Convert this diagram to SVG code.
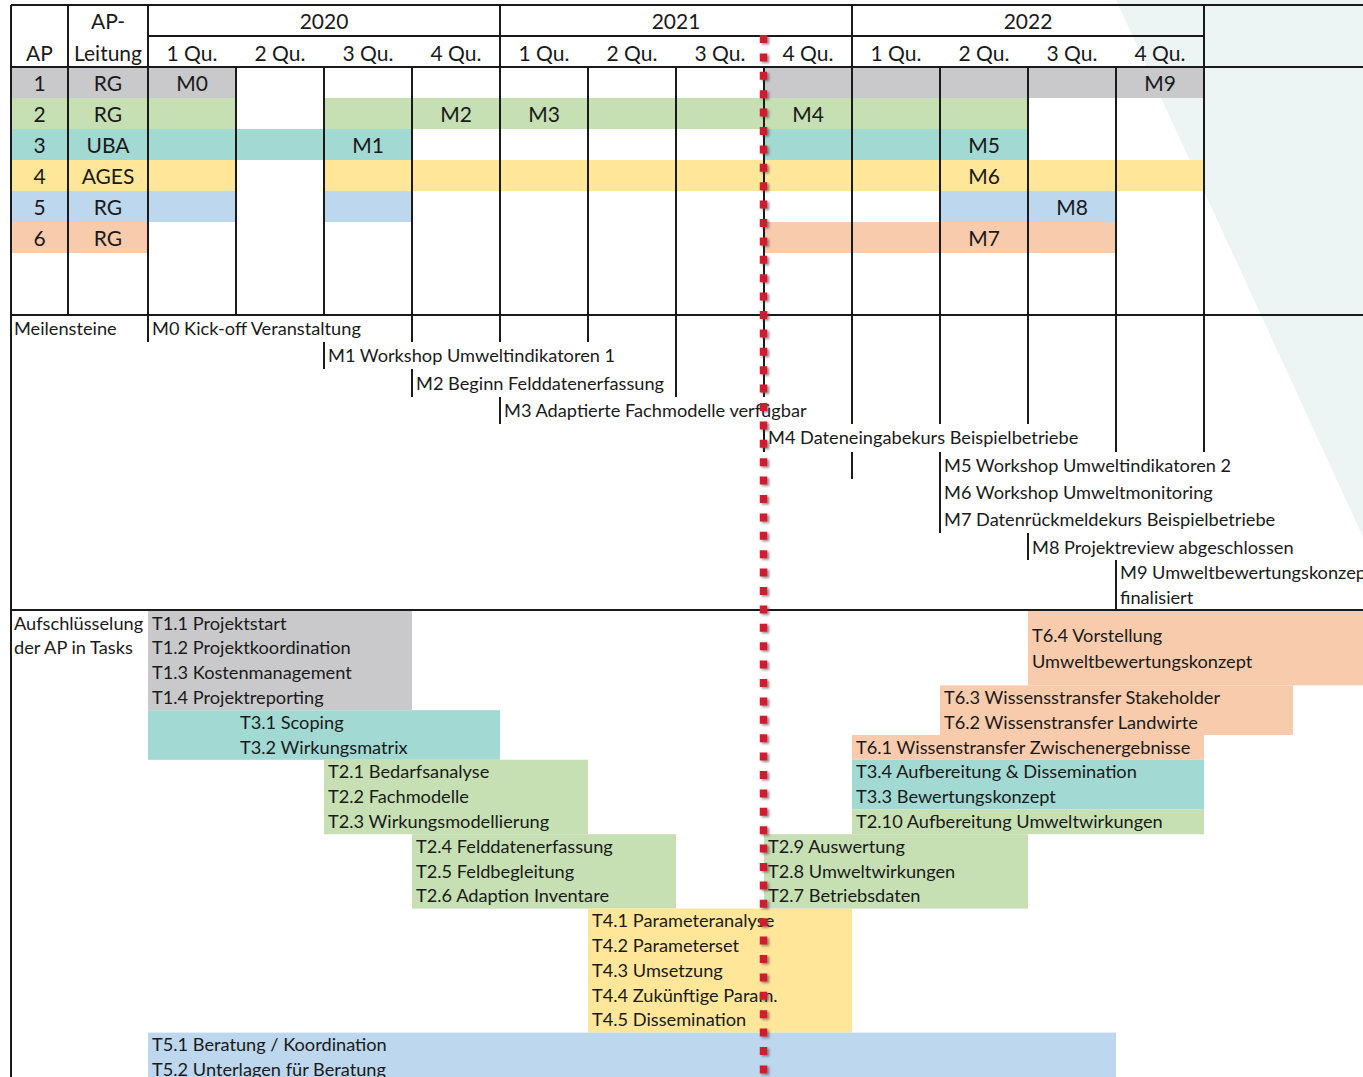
<svg xmlns="http://www.w3.org/2000/svg" width="1363" height="1077" viewBox="0 0 1363 1077">
<style>
.t{font-family:Lato,"Liberation Sans",sans-serif;font-size:18.2px;fill:#1a1a1a}
.h{font-family:Lato,"Liberation Sans",sans-serif;font-size:21px;fill:#1a1a1a;text-anchor:middle}
.ln{stroke:#1a1a1a;stroke-width:2;fill:none}
.gr{fill:#C9C9CB}.gn{fill:#C6E0B4}.tl{fill:#A2D9D3}.yl{fill:#FFE699}.bl{fill:#BDD7EE}.or{fill:#F8CBAD}
</style>
<defs>
<filter id="sh" filterUnits="userSpaceOnUse" x="740" y="20" width="50" height="1077">
<feDropShadow dx="2" dy="1.5" stdDeviation="1" flood-color="#444" flood-opacity="0.6"/>
</filter>
</defs>
<rect width="1363" height="1077" fill="#fff"/>
<polygon points="1116,0 1363,0 1363,537" fill="#EDF4F4"/>

<g id="gantt-fills">
<rect class="gr" x="11" y="67" width="225" height="31"/>
<rect class="gr" x="764" y="67" width="440" height="31"/>
<rect class="gn" x="11" y="98" width="225" height="31"/>
<rect class="gn" x="324" y="98" width="704" height="31"/>
<rect class="tl" x="11" y="129" width="401" height="31"/>
<rect class="tl" x="764" y="129" width="264" height="31"/>
<rect class="yl" x="11" y="160" width="225" height="31"/>
<rect class="yl" x="324" y="160" width="880" height="31"/>
<rect class="bl" x="11" y="191" width="225" height="31"/>
<rect class="bl" x="324" y="191" width="88" height="31"/>
<rect class="bl" x="940" y="191" width="176" height="31"/>
<rect class="or" x="11" y="222" width="137" height="31"/>
<rect class="or" x="764" y="222" width="352" height="31"/>
</g>

<g id="task-fills">
<rect class="gr" x="148" y="611" width="264" height="99.2"/>
<rect class="tl" x="148" y="710.2" width="352" height="49.6"/>
<rect class="gn" x="324" y="759.8" width="264" height="74.4"/>
<rect class="gn" x="412" y="834.2" width="264" height="74.4"/>
<rect class="yl" x="588" y="908.6" width="264" height="124"/>
<rect class="bl" x="148" y="1032.6" width="968" height="44.4"/>
<rect class="or" x="1028" y="611" width="335" height="74.4"/>
<rect class="or" x="940" y="685.4" width="353" height="49.6"/>
<rect class="or" x="852" y="735" width="352" height="24.8"/>
<rect class="tl" x="852" y="759.8" width="352" height="49.6"/>
<rect class="gn" x="852" y="809.4" width="352" height="24.8"/>
<rect class="gn" x="764" y="834.2" width="264" height="74.4"/>
</g>

<g id="grid" class="ln">
<path d="M11,5H1363M148,36H1204M11,67H1363M11,315H1363M11,610H1363"/>
<path d="M11,5V1077M68,5V315M148,5V342M500,5V67M852,5V67M1204,5V452"/>
<path d="M236,67V315M324,67V315M412,67V342M500,67V342M588,67V342M676,67V397M764,67V397M852,67V424M940,67V424M1028,67V424M1116,67V452"/>
<path d="M324,342V369M412,369V397M500,397V424M764,424V452M852,452V479M940,452V533M1028,533V560M1116,560V610"/>
</g>

<g id="header">
<text class="h" x="108" y="29">AP-</text>
<text class="h" x="39.5" y="60.5">AP</text>
<text class="h" x="108" y="60.5">Leitung</text>
<text class="h" x="324" y="29">2020</text>
<text class="h" x="676" y="29">2021</text>
<text class="h" x="1028" y="29">2022</text>
<text class="h" x="192" y="60.5">1 Qu.</text>
<text class="h" x="280" y="60.5">2 Qu.</text>
<text class="h" x="368" y="60.5">3 Qu.</text>
<text class="h" x="456" y="60.5">4 Qu.</text>
<text class="h" x="544" y="60.5">1 Qu.</text>
<text class="h" x="632" y="60.5">2 Qu.</text>
<text class="h" x="720" y="60.5">3 Qu.</text>
<text class="h" x="808" y="60.5">4 Qu.</text>
<text class="h" x="896" y="60.5">1 Qu.</text>
<text class="h" x="984" y="60.5">2 Qu.</text>
<text class="h" x="1072" y="60.5">3 Qu.</text>
<text class="h" x="1160" y="60.5">4 Qu.</text>
</g>

<g id="ap-rows">
<text class="h" x="39.5" y="91">1</text><text class="h" x="108" y="91">RG</text>
<text class="h" x="39.5" y="122">2</text><text class="h" x="108" y="122">RG</text>
<text class="h" x="39.5" y="153">3</text><text class="h" x="108" y="153">UBA</text>
<text class="h" x="39.5" y="184">4</text><text class="h" x="108" y="184">AGES</text>
<text class="h" x="39.5" y="215">5</text><text class="h" x="108" y="215">RG</text>
<text class="h" x="39.5" y="246">6</text><text class="h" x="108" y="246">RG</text>
<text class="h" x="192" y="91">M0</text>
<text class="h" x="1160" y="91">M9</text>
<text class="h" x="456" y="122">M2</text>
<text class="h" x="544" y="122">M3</text>
<text class="h" x="808" y="122">M4</text>
<text class="h" x="368" y="153">M1</text>
<text class="h" x="984" y="153">M5</text>
<text class="h" x="984" y="184">M6</text>
<text class="h" x="1072" y="215">M8</text>
<text class="h" x="984" y="246">M7</text>
</g>

<g id="milestones">
<text class="t" x="14" y="335">Meilensteine</text>
<text class="t" x="152" y="335">M0 Kick-off Veranstaltung</text>
<text class="t" x="328" y="362">M1 Workshop Umweltindikatoren 1</text>
<text class="t" x="416" y="389.5">M2 Beginn Felddatenerfassung</text>
<text class="t" x="504" y="417">M3 Adaptierte Fachmodelle verfügbar</text>
<text class="t" x="768" y="444">M4 Dateneingabekurs Beispielbetriebe</text>
<text class="t" x="944" y="471.5">M5 Workshop Umweltindikatoren 2</text>
<text class="t" x="944" y="499">M6 Workshop Umweltmonitoring</text>
<text class="t" x="944" y="526">M7 Datenrückmeldekurs Beispielbetriebe</text>
<text class="t" x="1032" y="553.5">M8 Projektreview abgeschlossen</text>
<text class="t" x="1120" y="578.5">M9 Umweltbewertungskonzept</text>
<text class="t" x="1120" y="604">finalisiert</text>
</g>

<g id="tasks">
<text class="t" x="14" y="629.5">Aufschlüsselung</text>
<text class="t" x="14" y="654.3">der AP in Tasks</text>
<text class="t" x="152" y="629.5">T1.1 Projektstart</text>
<text class="t" x="152" y="654.3">T1.2 Projektkoordination</text>
<text class="t" x="152" y="679.1">T1.3 Kostenmanagement</text>
<text class="t" x="152" y="703.9">T1.4 Projektreporting</text>
<text class="t" x="240" y="728.7">T3.1 Scoping</text>
<text class="t" x="240" y="753.5">T3.2 Wirkungsmatrix</text>
<text class="t" x="328" y="778.3">T2.1 Bedarfsanalyse</text>
<text class="t" x="328" y="803.1">T2.2 Fachmodelle</text>
<text class="t" x="328" y="827.9">T2.3 Wirkungsmodellierung</text>
<text class="t" x="416" y="852.7">T2.4 Felddatenerfassung</text>
<text class="t" x="416" y="877.5">T2.5 Feldbegleitung</text>
<text class="t" x="416" y="902.3">T2.6 Adaption Inventare</text>
<text class="t" x="592" y="927.1">T4.1 Parameteranalyse</text>
<text class="t" x="592" y="951.9">T4.2 Parameterset</text>
<text class="t" x="592" y="976.7">T4.3 Umsetzung</text>
<text class="t" x="592" y="1001.5">T4.4 Zukünftige Param.</text>
<text class="t" x="592" y="1026.3">T4.5 Dissemination</text>
<text class="t" x="152" y="1051.1">T5.1 Beratung / Koordination</text>
<text class="t" x="152" y="1075.9">T5.2 Unterlagen für Beratung</text>
<text class="t" x="1032" y="641.7">T6.4 Vorstellung</text>
<text class="t" x="1032" y="668.3">Umweltbewertungskonzept</text>
<text class="t" x="944" y="703.9">T6.3 Wissensstransfer Stakeholder</text>
<text class="t" x="944" y="728.7">T6.2 Wissenstransfer Landwirte</text>
<text class="t" x="856" y="753.5">T6.1 Wissenstransfer Zwischenergebnisse</text>
<text class="t" x="856" y="778.3">T3.4 Aufbereitung &amp; Dissemination</text>
<text class="t" x="856" y="803.1">T3.3 Bewertungskonzept</text>
<text class="t" x="856" y="827.9">T2.10 Aufbereitung Umweltwirkungen</text>
<text class="t" x="768" y="852.7">T2.9 Auswertung</text>
<text class="t" x="768" y="877.5">T2.8 Umweltwirkungen</text>
<text class="t" x="768" y="902.3">T2.7 Betriebsdaten</text>
</g>

<g id="today-line">
<line x1="763.5" y1="35" x2="763.5" y2="1077" stroke="#D01F2E" stroke-width="7.5" stroke-dasharray="8 10.4" filter="url(#sh)"/>
</g>
</svg>
